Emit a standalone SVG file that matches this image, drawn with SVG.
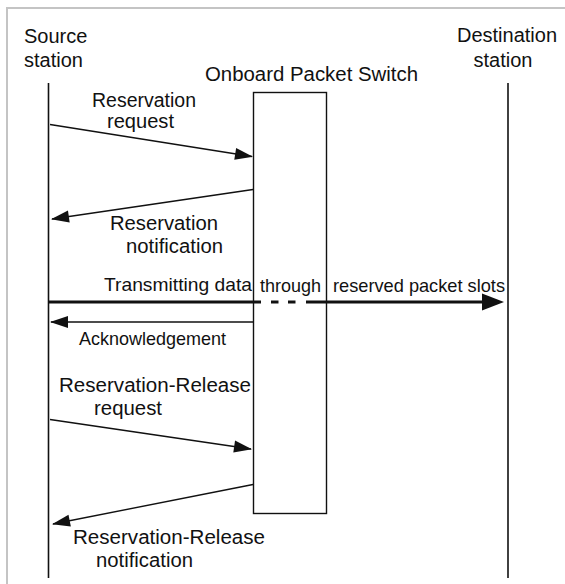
<svg xmlns="http://www.w3.org/2000/svg" width="565" height="584" viewBox="0 0 565 584">
<style>
  text { font-family: "Liberation Sans", Arial, Helvetica, sans-serif; fill: #111; }
  .hdr { font-size: 20px; }
  .lbl { font-size: 19.5px; }
  .mid { font-size: 18.5px; }
  .life { stroke: #111; stroke-width: 1.6; fill: none; }
  .box { stroke: #111; stroke-width: 1.4; fill: #fff; }
  .msg { stroke: #111; stroke-width: 1.4; fill: none; marker-end: url(#ah); }
  .thick { stroke: #111; stroke-width: 3; fill: none; }
  .frame { stroke: #c4c4c4; stroke-width: 2; fill: none; }
</style>
<defs>
  <marker id="ah" markerUnits="userSpaceOnUse" markerWidth="18" markerHeight="12" refX="17" refY="6" orient="auto" overflow="visible">
    <path d="M0,0 L18,6 L0,12 Z" fill="#111"/>
  </marker>
  <marker id="ahBig" markerUnits="userSpaceOnUse" markerWidth="22" markerHeight="17" refX="2" refY="8.5" orient="auto" overflow="visible">
    <path d="M0,0 L22,8.5 L0,17 Z" fill="#111"/>
  </marker>
</defs>
<rect width="565" height="584" fill="#fff"/>
<path class="frame" d="M7,584 V8 H565"/>

<g id="source">
  <text class="hdr" x="24" y="43">Source</text>
  <text class="hdr" x="24" y="67">station</text>
  <line class="life" x1="48.5" y1="83" x2="48.5" y2="578"/>
</g>

<g id="switch">
  <text class="hdr" x="205" y="81" textLength="213" lengthAdjust="spacingAndGlyphs">Onboard Packet Switch</text>
  <rect class="box" x="253.5" y="92.5" width="73" height="421"/>
</g>

<g id="destination">
  <text class="hdr" x="507" y="42" text-anchor="middle">Destination</text>
  <text class="hdr" x="503" y="67" text-anchor="middle">station</text>
  <line class="life" x1="508" y1="83" x2="508" y2="578"/>
</g>

<g id="connectors">
  <line class="msg" x1="50" y1="124.5" x2="252" y2="156.5"/>
  <line class="msg" x1="253" y1="189.5" x2="52" y2="219"/>
  <line class="thick" x1="48.5" y1="302" x2="261" y2="302"/>
  <line class="thick" x1="271" y1="302" x2="278.5" y2="302"/>
  <line class="thick" x1="288" y1="302" x2="295.5" y2="302"/>
  <line class="thick" x1="306" y1="302" x2="484" y2="302" marker-end="url(#ahBig)"/>
  <line class="msg" x1="253" y1="322" x2="51" y2="322"/>
  <line class="msg" x1="50" y1="419.5" x2="251" y2="449"/>
  <line class="msg" x1="253" y1="484.5" x2="53" y2="524"/>
</g>

<g id="labels">
  <text class="lbl" x="92" y="107" textLength="104" lengthAdjust="spacingAndGlyphs">Reservation</text>
  <text class="lbl" x="107" y="128" textLength="67" lengthAdjust="spacingAndGlyphs">request</text>
  <text class="lbl" x="110" y="230" textLength="108" lengthAdjust="spacingAndGlyphs">Reservation</text>
  <text class="lbl" x="126" y="253" textLength="97" lengthAdjust="spacingAndGlyphs">notification</text>
  <text class="mid" x="104" y="291" textLength="148" lengthAdjust="spacingAndGlyphs">Transmitting data</text>
  <text class="mid" x="260" y="292" textLength="61" lengthAdjust="spacingAndGlyphs">through</text>
  <text class="mid" x="333" y="292" textLength="172" lengthAdjust="spacingAndGlyphs">reserved packet slots</text>
  <text class="mid" x="79" y="345" textLength="147" lengthAdjust="spacingAndGlyphs">Acknowledgement</text>
  <text class="lbl" x="59" y="392" textLength="192" lengthAdjust="spacingAndGlyphs">Reservation-Release</text>
  <text class="lbl" x="94" y="415" textLength="68" lengthAdjust="spacingAndGlyphs">request</text>
  <text class="lbl" x="73" y="544" textLength="192" lengthAdjust="spacingAndGlyphs">Reservation-Release</text>
  <text class="lbl" x="96" y="567" textLength="97" lengthAdjust="spacingAndGlyphs">notification</text>
</g>
</svg>
